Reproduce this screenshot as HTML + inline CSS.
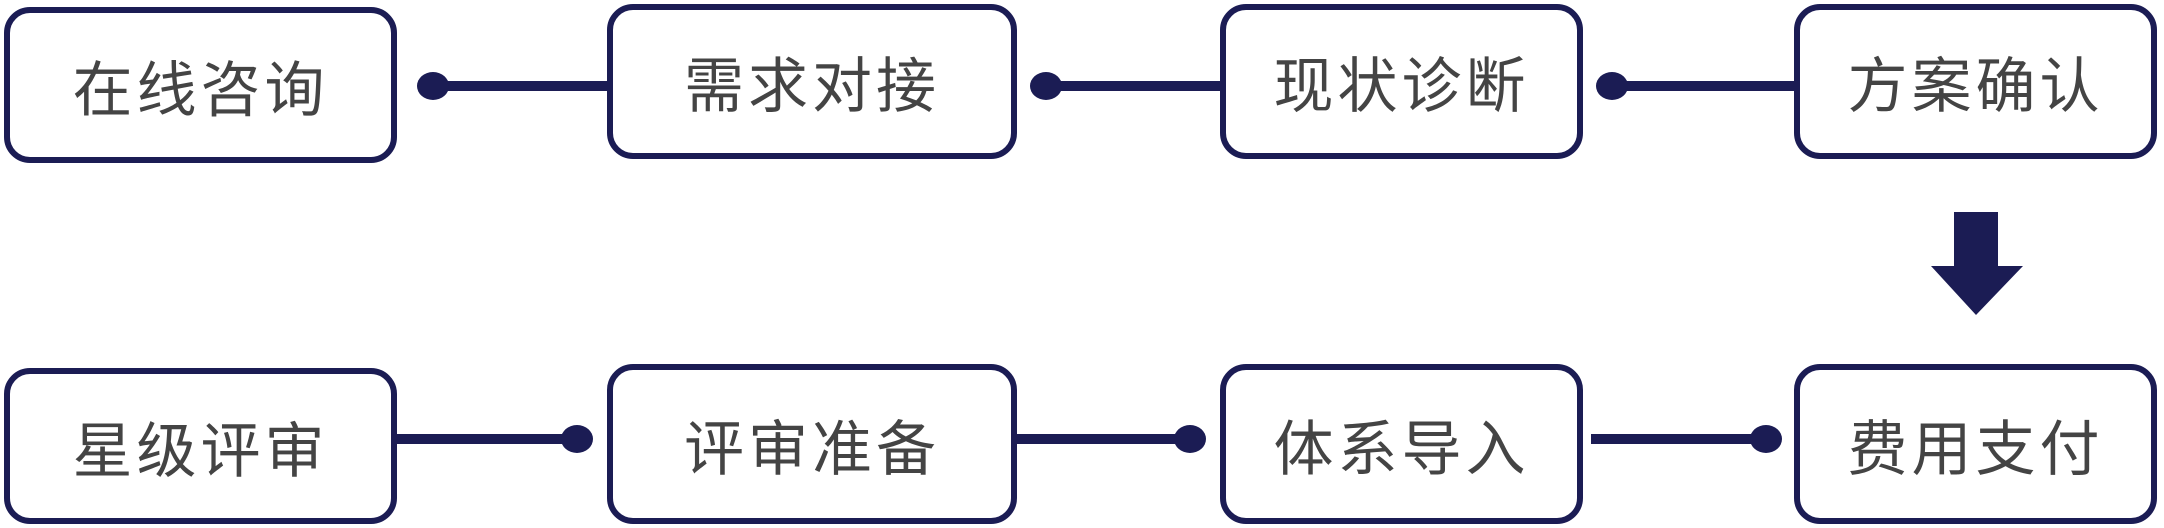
<!DOCTYPE html>
<html><head><meta charset="utf-8"><style>
body{margin:0;width:2164px;height:528px;background:#fff;position:relative;overflow:hidden;font-family:"Liberation Sans","Noto Sans CJK SC",sans-serif}
.b{position:absolute;box-sizing:border-box;border:6px solid #1b1c54;border-radius:26px;background:#fff;display:flex;align-items:center;justify-content:center;color:#444;font-size:60px;letter-spacing:4px}
.l{position:absolute;height:10px;background:#1b1c54}
.d{position:absolute;width:32px;height:28px;border-radius:50%;background:#1b1c54}
</style></head><body>
<div class="l" style="left:433px;top:81px;width:180px"></div>
<div class="l" style="left:1046px;top:81px;width:180px"></div>
<div class="l" style="left:1612px;top:81px;width:186px"></div>
<div class="d" style="left:417px;top:72px"></div>
<div class="d" style="left:1030px;top:72px"></div>
<div class="d" style="left:1596px;top:72px"></div>
<div class="b" style="left:4px;top:7px;width:393px;height:156px">在线咨询</div>
<div class="b" style="left:607px;top:4px;width:410px;height:155px">需求对接</div>
<div class="b" style="left:1220px;top:4px;width:363px;height:155px">现状诊断</div>
<div class="b" style="left:1794px;top:4px;width:363px;height:155px">方案确认</div>
<svg style="position:absolute;left:0;top:0" width="2164" height="528"><rect x="1954" y="212" width="44" height="55" fill="#1b1c54"/><polygon points="1931,266 2023,266 1976,315" fill="#1b1c54"/></svg>
<div class="l" style="left:397px;top:434px;width:180px"></div>
<div class="l" style="left:1017px;top:434px;width:173px"></div>
<div class="l" style="left:1591px;top:434px;width:175px"></div>
<div class="d" style="left:561px;top:425px"></div>
<div class="d" style="left:1174px;top:425px"></div>
<div class="d" style="left:1750px;top:425px"></div>
<div class="b" style="left:4px;top:368px;width:393px;height:156px">星级评审</div>
<div class="b" style="left:607px;top:364px;width:410px;height:160px">评审准备</div>
<div class="b" style="left:1220px;top:364px;width:363px;height:160px">体系导入</div>
<div class="b" style="left:1794px;top:364px;width:363px;height:160px">费用支付</div>
</body></html>
